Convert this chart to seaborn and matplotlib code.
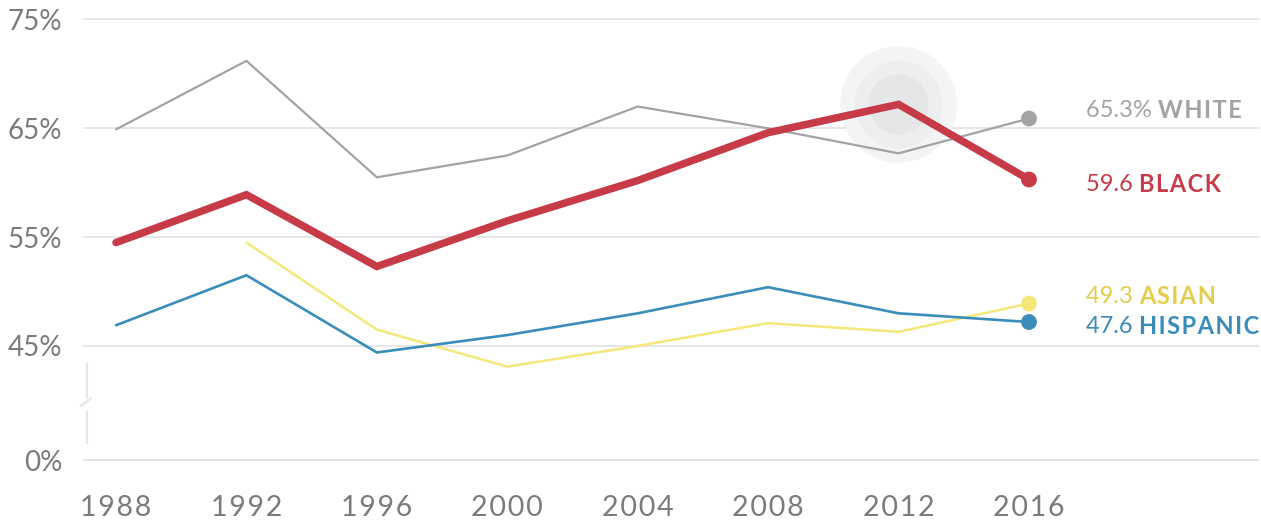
import numpy as np
import pandas as pd
import matplotlib
matplotlib.use("Agg")
import matplotlib.pyplot as plt
from matplotlib.lines import Line2D
from matplotlib.transforms import IdentityTransform
import seaborn as sns

# ---------------- data ----------------
years = [1988, 1992, 1996, 2000, 2004, 2008, 2012, 2016]
white = [64.9, 71.2, 60.5, 62.5, 67.0, 65.0, 62.7, 65.9]
black = [54.5, 58.9, 52.3, 56.5, 60.2, 64.6, 67.2, 60.3]
hispanic = [46.9, 51.5, 44.4, 46.0, 48.0, 50.4, 48.0, 47.2]
asian = [np.nan, 54.5, 46.5, 43.1, 45.0, 47.1, 46.3, 48.9]

series_names = ["WHITE", "BLACK", "ASIAN", "HISPANIC"]
end_values = ["65.3%", "59.6", "49.3", "47.6"]
ytick_values = [0, 45, 55, 65, 75]
ytick_labels = ["0%", "45%", "55%", "65%", "75%"]
xtick_labels = ["1988", "1992", "1996", "2000", "2004", "2008", "2012", "2016"]

# ---------------- style ----------------
W, H, DPI = 1261, 525, 100
ZERO_POS = 34.52          # where the broken-axis 0% is drawn
line_colors = {"WHITE": "#a3a3a3", "BLACK": "#c73a48", "ASIAN": "#f4e87a", "HISPANIC": "#3a8dba"}
label_colors = {"WHITE": "#a3a3a3", "BLACK": "#c73a48", "ASIAN": "#e2cd4c", "HISPANIC": "#3a8dba"}
line_widths = {"WHITE": 1.6, "BLACK": 5.4, "ASIAN": 1.8, "HISPANIC": 1.9}
label_dy_px = {"WHITE": 8, "BLACK": -5, "ASIAN": 7, "HISPANIC": -4}
tick_color = "#7b7b7b"
grid_color = "#e6e6e6"
HS = "\u200a"  # hair space for letter spacing

def spaced(s, sep=HS):
    return sep.join(s)

sns.set_theme(style="white")
plt.rcParams["font.family"] = ["Lato", "DejaVu Sans"]

fig = plt.figure(figsize=(W / DPI, H / DPI), dpi=DPI)
fig.patch.set_facecolor("white")

# axes spanning x px 83..1259, y px 0..470
ax = fig.add_axes([83 / W, (H - 470) / H, (1259 - 83) / W, 470 / H])
px_per_year = (1029 - 116) / 28.0
ax.set_xlim(1988 - (116 - 83) / px_per_year, 1988 + (1259 - 116) / px_per_year)
px_per_pct = (346 - 19.5) / 30.0
ax.set_ylim(ZERO_POS - 10 / px_per_pct, 75 + 19.5 / px_per_pct)

df = pd.DataFrame({"year": years, "WHITE": white, "BLACK": black,
                   "ASIAN": asian, "HISPANIC": hispanic})
long = df.melt(id_vars="year", var_name="group", value_name="value").dropna()

# halo at the Black 2012 peak
peak = long[(long.group == "BLACK") & (long.year == 2012)]
for s, c in [(7056, "#f3f4f4"), (3960, "#edeeef"), (1866, "#e5e6e8")]:
    ax.scatter(peak.year, peak.value, s=s, color=c, edgecolor="none", zorder=1)

draw_order = ["WHITE", "ASIAN", "HISPANIC", "BLACK"]
for name in draw_order:
    sub = long[long.group == name]
    sns.lineplot(data=sub, x="year", y="value", ax=ax, color=line_colors[name],
                 linewidth=line_widths[name], zorder=3, solid_joinstyle="miter",
                 solid_capstyle="round", estimator=None, sort=False)
    last = sub[sub.year == sub.year.max()]
    sns.scatterplot(data=last, x="year", y="value", ax=ax, color=line_colors[name],
                    s=130, edgecolor="none", zorder=4)

# grid lines
for v in ytick_values:
    pos = ZERO_POS if v == 0 else v
    ax.axhline(pos, color=grid_color, lw=1.4, zorder=0)

ax.set_yticks([ZERO_POS if v == 0 else v for v in ytick_values])
ax.set_yticklabels(ytick_labels)
ax.set_xticks(years)
ax.set_xticklabels([spaced(t) for t in xtick_labels])
ax.tick_params(axis="y", length=0, pad=15, labelsize=20, labelcolor=tick_color)
ax.tick_params(axis="x", length=0, pad=18, labelsize=20.5, labelcolor=tick_color)
ax.set_xlabel("")
ax.set_ylabel("")
for sp in ax.spines.values():
    sp.set_visible(False)
ax.grid(False)
if ax.get_legend():
    ax.get_legend().remove()

# axis break marks (pixel geometry)
def img_line(xs, ys, **kw):
    fig.add_artist(Line2D(xs, [H - y for y in ys], transform=IdentityTransform(), **kw))

img_line([86.5, 86.5], [364, 397], color=grid_color, lw=1.6)
img_line([81, 91], [406, 398], color=grid_color, lw=1.6)
img_line([86.5, 86.5], [412, 443], color=grid_color, lw=1.6)

# end labels
fig.canvas.draw()
renderer = fig.canvas.get_renderer()
for name, valtxt in zip(series_names, end_values):
    sub = long[long.group == name]
    last = sub[sub.year == sub.year.max()].iloc[0]
    t1 = ax.annotate(valtxt + " ", xy=(last.year, last.value), xytext=(57, label_dy_px[name]),
                     textcoords="offset pixels", ha="left", va="center",
                     fontsize=17, fontweight="normal", color=label_colors[name])
    fig.canvas.draw()
    bb = t1.get_window_extent(renderer)
    ax.annotate(spaced(name), xy=(last.year, last.value),
                xytext=(57 + bb.width, label_dy_px[name]), textcoords="offset pixels",
                ha="left", va="center", fontsize=17, fontweight="bold",
                color=label_colors[name])

fig.savefig("out.png", dpi=DPI, facecolor="white")
